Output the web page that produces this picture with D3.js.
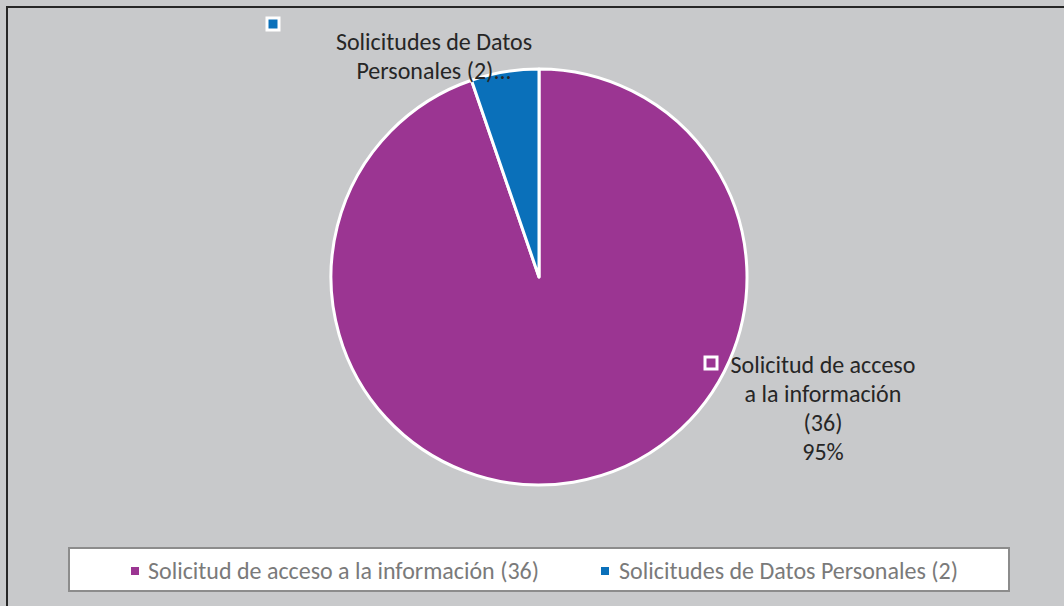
<!DOCTYPE html>
<html><head><meta charset="utf-8">
<script src="https://cdn.jsdelivr.net/npm/d3@7"></script>
<style>html,body{margin:0;padding:0;background:#c8c9cb;overflow:hidden}</style>
</head><body>
<svg id="c" width="1064" height="606"></svg>
<script>
const categories = ["Solicitud de acceso a la información (36)", "Solicitudes de Datos Personales (2)"];
const values = [36, 2];
const colors = ["#9b3592", "#0a70ba"];
const sliceLabels = [["Solicitud de acceso", "a la información", "(36)", "95%"], ["Solicitudes de Datos", "Personales (2)..."]];

const svg = d3.select("#c");
const FONT = "Carlito, Calibri, 'Open Sans', sans-serif";
svg.append("rect").attr("x",0).attr("y",0).attr("width",1064).attr("height",606).attr("fill","#c8c9cb");
svg.append("rect").attr("x",7).attr("y",7).attr("width",1100).attr("height",650)
  .attr("fill","none").attr("stroke","#262626").attr("stroke-width",2);

const cx = 539, cy = 277, r = 208;
const pie = d3.pie().sort(null).value(d=>d);
const arcs = pie(values);
const arc = d3.arc().innerRadius(0).outerRadius(r);
const g = svg.append("g").attr("transform",`translate(${cx},${cy})`);
g.selectAll("path").data(arcs).join("path")
  .attr("d",arc).attr("fill",(d,i)=>colors[i])
  .attr("stroke","#fff").attr("stroke-width",3).attr("stroke-linejoin","round");

// data labels
const labelPos = [{x:823, y:365, mx:711, my:363}, {x:434, y:42, mx:273, my:24}];
labelPos.forEach((p,i)=>{
  svg.append("rect").attr("x",p.mx-6).attr("y",p.my-6).attr("width",12).attr("height",12)
    .attr("fill",colors[i]).attr("stroke","#fff").attr("stroke-width",3);
  const t = svg.append("text").attr("font-family",FONT).attr("font-size",24)
    .attr("fill","#262626").attr("text-anchor","middle");
  sliceLabels[i].forEach((line,k)=>{
    t.append("tspan").attr("x",p.x).attr("y",p.y+k*29).attr("dy","0.35em").text(line);
  });
});

// legend
svg.append("rect").attr("x",69).attr("y",548).attr("width",940).attr("height",43)
  .attr("fill","#fff").attr("stroke","#8c8c8c").attr("stroke-width",2);
const legX = [[135,148,539],[605,619,958]];
categories.forEach((c,i)=>{
  svg.append("rect").attr("x",legX[i][0]-4).attr("y",567).attr("width",8).attr("height",8).attr("fill",colors[i]);
  svg.append("text").attr("x",legX[i][1]).attr("y",571).attr("dy","0.35em")
    .attr("font-family",FONT).attr("font-size",23.5).attr("fill","#7a7a7a")
    .attr("textLength",legX[i][2]-legX[i][1]).attr("lengthAdjust","spacingAndGlyphs").text(c);
});
</script>
</body></html>
